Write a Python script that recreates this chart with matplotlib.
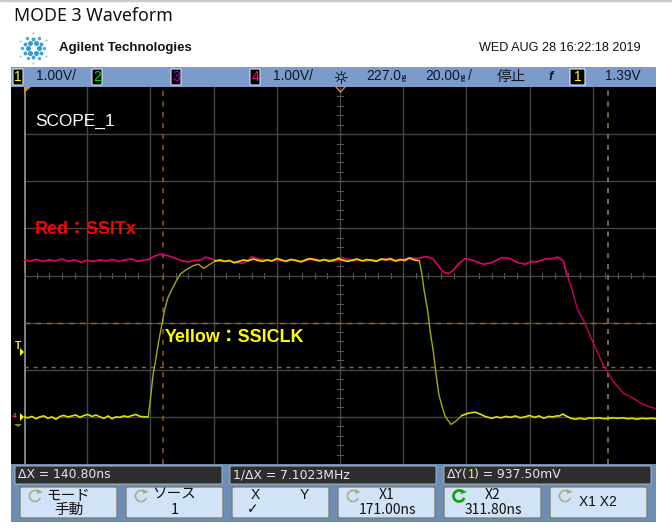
#!/usr/bin/env python
import matplotlib
matplotlib.use("Agg")
import matplotlib.pyplot as plt
from matplotlib.patches import Rectangle, FancyBboxPatch, Arc, Polygon
import math

# waveform readings, time in ns and volts
yellow_t = [127, 128.2, 129.5, 130.8, 132, 133.3, 134.6, 135.8, 137.1, 138.4, 139.6, 140.9, 142.2, 143.4, 144.7,
            146, 147.2, 148.5, 149.8, 151, 152.3, 153.6, 154.8, 156.1, 157.4, 158.6, 159.9, 161.2, 162.4, 163.7, 165.5,
            166.3, 167.1, 167.9, 168.5, 169.5, 170.8, 171.6, 172.5, 173.7, 175.3, 176.6, 178.5, 180.6, 182.2, 183.8,
            185.9, 187.5, 189, 190.5, 192, 193.5, 195, 196.5, 198, 199.5, 201, 202.5, 204, 205.5, 207, 208.5, 210,
            211.5, 213, 214.5, 216, 217.5, 219, 220.5, 222, 223.5, 225, 226.5, 228, 229.5, 231, 232.5, 234, 235.5,
            237, 238.5, 240, 241.5, 243, 244.5, 246, 247.5, 249, 250.5, 251.5,
            252.1, 252.9, 253.6, 254.7, 255.5, 256.6, 257.5, 258.3, 259.3, 260.3, 262.1, 263.5, 265.6, 267.7, 269.8,
            271.3, 272.9, 275, 276.5, 278, 279.5, 281, 282.5, 284, 285.5, 287, 288.5, 290, 291.5, 293, 294.5, 295.5,
            296.5, 297.5, 298.5, 300, 301.5, 303, 304.5, 306, 307.5, 309, 310.5, 312, 313.5, 315, 316.5, 318, 319.5,
            321, 322.5, 324, 325.5, 327]
yellow_v = [0.0, -0.02, 0.01, -0.04, 0.0, 0.02, -0.03, 0.0, -0.05, 0.01, 0.03, 0.0, 0.02, 0.04, -0.01,
            0.03, 0.05, 0.01, 0.04, 0.0, -0.03, 0.02, -0.04, 0.0, -0.01, 0.02, 0.0, 0.03, 0.05, 0.01, 0.0,
            0.0, 0.43, 0.93, 1.14, 1.56, 2.02, 2.30, 2.52, 2.69, 2.90, 3.04, 3.13, 3.21, 3.24, 3.15,
            3.24, 3.31, 3.33, 3.30, 3.32, 3.27, 3.30, 3.33, 3.31, 3.35, 3.32, 3.30, 3.33, 3.31, 3.36, 3.33, 3.30,
            3.34, 3.32, 3.29, 3.33, 3.36, 3.33, 3.31, 3.34, 3.30, 3.33, 3.36, 3.32, 3.30, 3.33, 3.35, 3.31, 3.34,
            3.32, 3.30, 3.35, 3.33, 3.36, 3.31, 3.34, 3.32, 3.37, 3.33, 3.32,
            3.31, 3.04, 2.69, 2.27, 1.84, 1.35, 0.85, 0.47, 0.22, 0.01, -0.16, -0.10, 0.03, 0.08, 0.10,
            0.06, 0.01, -0.03, 0.0, -0.02, 0.01, -0.01, 0.02, -0.02, 0.0, 0.03, -0.01, 0.02, -0.03, 0.01, 0.0, 0.02,
            0.02, 0.06, 0.02, -0.03, -0.05, -0.03, -0.05, -0.02, -0.03, -0.02, -0.04, -0.03, -0.02, -0.03, -0.02, -0.04,
            -0.03, -0.05, -0.03, -0.04, -0.03, -0.04]

red_t = [127, 129, 131, 133, 135, 137, 139, 141, 143, 145, 147, 149, 151, 153, 155, 157, 159, 161, 163, 165, 166.5,
         168, 170, 172, 173.5, 175, 177, 179, 181, 183, 184.5, 186, 188, 190, 192, 194, 196, 197.5, 199, 201, 203,
         205, 207, 209, 211, 213, 215, 217, 219, 221, 223, 225, 227, 229, 231, 233, 235, 237, 239, 241, 243, 245,
         247, 249, 251.3, 254.5, 256.4, 258, 259.6, 261.2, 262.7, 264.4, 266.6, 268.7, 272.3, 275, 278.2, 280.8,
         283, 285.6, 287.5, 289.3, 291.9, 294.4, 296, 297.7, 298.8, 300.3, 302.2, 304, 305.5, 307.2, 310.3, 313.5,
         316.7, 318.5, 320.9, 322.5, 324.1, 326.7]
red_v = [3.33, 3.31, 3.34, 3.30, 3.33, 3.31, 3.35, 3.30, 3.33, 3.28, 3.32, 3.30, 3.33, 3.31, 3.34, 3.30, 3.33, 3.35,
         3.30, 3.33, 3.34, 3.40, 3.45, 3.43, 3.40, 3.36, 3.31, 3.29, 3.32, 3.33, 3.39, 3.36, 3.31, 3.30, 3.31,
         3.28, 3.26, 3.30, 3.40, 3.35, 3.34, 3.31, 3.33, 3.30, 3.34, 3.32, 3.29, 3.33, 3.36, 3.31, 3.34, 3.30, 3.33,
         3.36, 3.31, 3.33, 3.30, 3.34, 3.31, 3.36, 3.32, 3.30, 3.34, 3.38, 3.36, 3.40, 3.35, 3.22, 3.08, 3.04, 3.10,
         3.24, 3.36, 3.33, 3.24, 3.27, 3.38, 3.36, 3.28, 3.24, 3.30, 3.29, 3.35, 3.36, 3.39, 3.31, 3.01, 2.73, 2.27,
         2.06, 1.82, 1.56, 1.10, 0.75, 0.50, 0.44, 0.35, 0.28, 0.23, 0.18]

vcursor_ns = [171.0, 311.8]
hcursor_v = [1.99, 1.05]

header_l = "1.00V/"
softkeys = [("モード", "手動"), ("ソース", "1"), ("X        Y", "✓"), ("X1", "171.00ns"), ("X2", "311.80ns"), ("X1 X2", "")]
key_left = [20, 126, 232, 338, 444, 550]
readouts = [(15, 222, "ΔX = 140.80ns"), (230, 436, "1/ΔX = 7.1023MHz"), (444, 651, "ΔY(1) = 937.50mV")]

JP = ['Noto Sans CJK JP', 'DejaVu Sans']
plt.rcParams['font.family'] = ['Liberation Sans', 'Noto Sans CJK JP', 'DejaVu Sans']

fig = plt.figure(figsize=(6.72, 5.31), dpi=100, facecolor="white")

def px_axes(z):
    a = fig.add_axes([0, 0, 1, 1], zorder=z)
    a.set_xlim(0, 672)
    a.set_ylim(531, 0)
    a.axis("off")
    return a

bg = px_axes(0)
top = px_axes(3)

BLUE = "#7b9ccb"
# page top rule and title
bg.add_patch(Rectangle((0, 0), 672, 1.2, color="#cccccc"))
bg.text(14, 16, "MODE 3 Waveform", fontsize=12.8, family=["Noto Sans"], fontweight="medium", va="center", color="#111111")

# logo spark
for ang in range(0, 360, 30):
    rings = [(5.5, 13, "#2f9bd0"), (11, 6, "#4aa8d8")] if ang % 60 == 0 else [(9, 8, "#3aa0d4"), (15, 2.5, "#9accE6")]
    for r, s, col in rings:
        bg.scatter(33 + r * math.cos(math.radians(ang)), 48 + r * math.sin(math.radians(ang)),
                   s=s, color=col, linewidths=0)
bg.text(59, 48, "Agilent Technologies", fontsize=9.5, fontweight="bold", va="center", color="#111111")
bg.text(479, 48, "WED AUG 28 16:22:18 2019", fontsize=9.1, va="center", color="#111111")

# scope frame
bg.add_patch(Rectangle((11, 67), 645, 20, color=BLUE, lw=0))
bg.add_patch(Rectangle((11, 87), 645, 377, color="black", lw=0))
bg.add_patch(Rectangle((11, 464), 645, 58, color="#6d8db5", lw=0))

ax = fig.add_axes([24 / 672, 1 - 464 / 531, 632 / 672, 377 / 531], zorder=1, facecolor="black")
ax.set_xlim(127, 327)
ax.set_ylim(-1, 7)
ax.set_xticks([127 + 20 * i for i in range(1, 10)])
ax.set_yticks(range(0, 7))
ax.tick_params(length=0, labelbottom=False, labelleft=False)
ax.grid(True, color="#444444", lw=1)
ax.set_axisbelow(True)
for s in ax.spines.values():
    s.set_visible(False)
ax.axvline(127.2, color="#9a9a9a", lw=1.2)
# center line ticks
for i in range(50):
    t = 127 + 4 * i
    ax.plot([t, t], [2.95, 3.05], color="#555555", lw=0.8)
for i in range(40):
    v = -1 + 0.2 * i
    ax.plot([226.2, 227.8], [v, v], color="#555555", lw=0.8)
for c in hcursor_v:
    ax.axhline(c, color="#a85a10", lw=1, dashes=(4, 4) if c > 1.5 else (3, 3.5))
ax.axvline(vcursor_ns[0], color="#8a5218", lw=1.2, dashes=(3, 3.5))
ax.axvline(vcursor_ns[1], color="#8c7860", lw=1.2, dashes=(3, 3.5))
# steep edges look dimmer on the scope screen
ax.plot(red_t[:87], red_v[:87], color="#e6006e", lw=1.2)
ax.plot(red_t[86:], red_v[86:], color="#c8005f", lw=1.0)
ax.plot(yellow_t[:32], yellow_v[:32], color="#e0e000", lw=1.2)
ax.plot(yellow_t[31:48], yellow_v[31:48], color="#a8a810", lw=1.0)
ax.plot(yellow_t[47:92], yellow_v[47:92], color="#e0e000", lw=1.2)
ax.plot(yellow_t[91:104], yellow_v[91:104], color="#a8a810", lw=1.0)
ax.plot(yellow_t[103:], yellow_v[103:], color="#e0e000", lw=1.2)

# labels over the trace
top.text(35, 121, "SCOPE_1", color="white", fontsize=12.4, va="center")
top.text(35, 229, "Red：SSITx", color="#ff0000", fontsize=12.9, fontweight="bold", va="center")
top.text(165, 338, "Yellow：SSICLK", color="#ffff00", fontsize=12.9, fontweight="bold", va="center")

# trigger and ground markers
top.text(18, 346, "T", color="#e6e64a", fontsize=7.5, fontweight="bold", ha="center", va="center")
top.add_patch(Polygon([[20, 348], [24, 352], [20, 356]], color="#ffff00", lw=0))
top.add_patch(Polygon([[20, 413], [24, 417], [20, 421]], color="#ffff00", lw=0))
top.text(14, 417, "4", color="#ff2090", fontsize=6, fontweight="bold", ha="center", va="center")
top.add_patch(Polygon([[14, 424], [22, 424], [18, 427]], color="#8a8a20", lw=0))
top.add_patch(Polygon([[24, 87], [31, 87], [24, 93]], color="#e08a30", lw=0))
top.plot([336, 340.5, 345], [87, 92, 87], color="#e08a30", lw=1)

# header bar
for x, lab, col in [(18, "1", "#ffff00"), (97, "2", "#00e000"), (176, "3", "#a000e0"), (255, "4", "#ff0090")]:
    top.add_patch(FancyBboxPatch((x - 4, 70), 8, 14, boxstyle="round,pad=1", fc="black", ec="#d8e0ea", lw=0.8))
    top.text(x, 77, lab, color=col, fontsize=10, ha="center", va="center")
top.add_patch(FancyBboxPatch((571, 70), 13, 14, boxstyle="round,pad=1", fc="black", ec="#e8eef5", lw=0.8))
top.text(577.5, 77, "1", color="#ffff00", fontsize=10, ha="center", va="center")
HDR = "#101828"
top.text(36, 76.5, header_l, fontsize=10, color=HDR, va="center")
top.text(273, 76.5, header_l, fontsize=10, color=HDR, va="center")
top.text(366, 76.5, "227.0", fontsize=10, color=HDR, va="center")
top.text(405, 76.5, "ns", fontsize=5, color=HDR, va="center", ha="center", rotation=90, fontweight="bold")
top.text(425, 76.5, "20.00", fontsize=10, color=HDR, va="center")
top.text(464, 76.5, "ns", fontsize=5, color=HDR, va="center", ha="center", rotation=90, fontweight="bold")
top.text(468, 76.5, "/", fontsize=10, color=HDR, va="center")
top.text(497, 77, "停止", fontsize=10.5, color=HDR, va="center", family=JP)
top.text(551, 76.5, "f", fontsize=9.5, color=HDR, va="center", ha="center", fontweight="bold", style="italic")
top.text(605, 76.5, "1.39V", fontsize=9.8, color=HDR, va="center")
# sun icon for intensity
for ang in range(0, 360, 45):
    c, s = math.cos(math.radians(ang)), math.sin(math.radians(ang))
    top.plot([341 + 3 * c, 341 + 6 * c], [77 + 3 * s, 77 + 6 * s], color=HDR, lw=0.7)
top.add_patch(Arc((341, 77), 5, 5, color=HDR, lw=0.6))

# readout bars
for x0, x1, txt in readouts:
    top.add_patch(FancyBboxPatch((x0 + 1, 467), x1 - x0 - 2, 16, boxstyle="round,pad=1", fc="#2e2e2e", ec="#b8c4d4", lw=0.6))
    if "(1)" in txt:
        top.text(x0 + 3, 474.5, "ΔY(", color="#e8e8e8", fontsize=8.9, va="center", family=["DejaVu Sans"])
        top.text(x0 + 23, 474.5, "1", color="#ffff00", fontsize=8.9, va="center")
        top.text(x0 + 30, 474.5, ") = 937.50mV", color="#e8e8e8", fontsize=8.9, va="center", family=["DejaVu Sans"])
    else:
        top.text(x0 + 3, 474.5, txt, color="#e8e8e8", fontsize=8.9, va="center", family=["DejaVu Sans"])

# softkeys
for x, (a, b) in zip(key_left, softkeys):
    top.add_patch(FancyBboxPatch((x + 2, 489), 93, 27, boxstyle="round,pad=2", fc="#d0e3f7", ec="#7d7a66", lw=0.9))
    cx = x + 48.5 if x < 230 else x + 49
    if x == 232:
        top.text(x + 23, 495, "X", fontsize=10, ha="center", va="center", color="#111111")
        top.text(x + 72, 495, "Y", fontsize=10, ha="center", va="center", color="#111111")
        top.text(x + 21, 509, b, fontsize=10, ha="center", va="center", color="#111111", family=["DejaVu Sans"])
    elif b == "":
        top.text(x + 48, 502, a, fontsize=10, ha="center", va="center", color="#111111")
    else:
        top.text(cx, 495, a, fontsize=10.5 if x < 230 else 10, ha="center", va="center", color="#111111", family=JP)
        top.text(cx, 510, b, fontsize=10.5 if x < 230 else 10, ha="center", va="center", color="#111111", family=JP)
    if x != 232:
        green = x == 444
        col = "#10a810" if green else "#b0aa88"
        top.add_patch(Arc((x + 15, 496), 11, 11, theta1=20, theta2=300, color=col, lw=2 if green else 1.2))
        top.add_patch(Polygon([[x + 17, 489], [x + 23, 492], [x + 17, 494]], color=col, lw=0))

fig.savefig("out.png", dpi=100)
